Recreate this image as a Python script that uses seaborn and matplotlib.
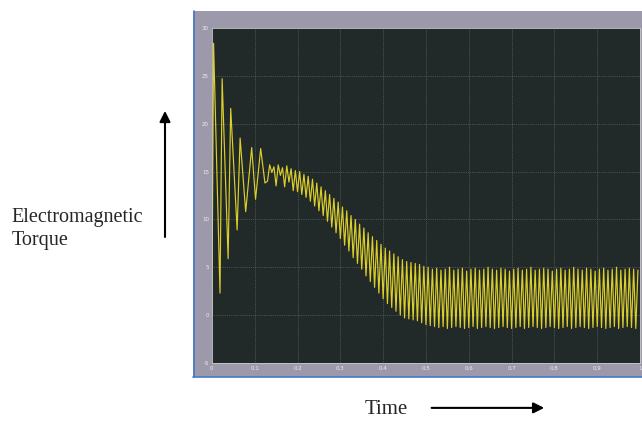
import numpy as np
import pandas as pd
import matplotlib.pyplot as plt
import seaborn as sns
from matplotlib.patches import Rectangle

# start-up transient (50 Hz swing), read extremum by extremum
transient_t = [0.0, 0.004, 0.019, 0.024, 0.038, 0.044, 0.059, 0.066, 0.079,
               0.093, 0.102, 0.114, 0.124]
transient_v = [0.0, 28.4, 2.3, 24.7, 5.9, 21.6, 8.9, 18.5, 10.8,
               17.5, 12.1, 17.4, 13.8]

# 100 Hz ripple after the transient: one peak and one trough per cycle
ripple_start = 0.13
ripple_period = 0.01
peak_v = [15.7, 15.5, 15.7, 15.4, 15.6, 15.3, 15.1, 15.0, 14.7, 14.5,
          14.2, 13.8, 13.4, 13.0, 12.6, 12.2, 11.8, 11.3, 10.9, 10.4,
          10.0, 9.5, 9.1, 8.6, 8.2, 7.8, 7.4, 7.0, 6.7, 6.4,
          6.1, 5.8, 5.6, 5.5, 5.4, 5.3, 5.1, 5.0, 4.8, 4.9,
          4.7, 4.8, 5.0, 4.7, 4.8, 4.9, 4.6, 4.8, 4.9, 4.7,
          4.8, 5.0, 4.8, 4.7, 4.9, 4.8, 4.6, 4.8, 4.9, 4.7,
          4.8, 5.0, 4.7, 4.8, 4.9, 4.8, 4.6, 4.8, 4.9, 4.7,
          4.8, 5.0, 4.8, 4.7, 4.9, 4.8, 4.6, 4.8, 4.9, 4.7,
          4.8, 5.0, 4.7, 4.8, 4.9, 4.8, 4.7]
trough_v = [14.0, 14.9, 13.5, 14.6, 13.4, 13.9, 13.0, 12.9, 12.6, 12.3,
            11.9, 11.4, 10.9, 10.4, 9.8, 9.2, 8.6, 8.0, 7.3, 6.7,
            6.0, 5.4, 4.8, 4.1, 3.5, 2.9, 2.3, 1.7, 1.2, 0.8,
            0.4, 0.0, -0.3, -0.4, -0.5, -0.6, -0.8, -1.0, -1.1, -1.2,
            -1.3, -1.2, -1.4, -1.3, -1.2, -1.3, -1.4, -1.3, -1.2, -1.4,
            -1.3, -1.2, -1.3, -1.4, -1.3, -1.2, -1.3, -1.4, -1.3, -1.2,
            -1.4, -1.3, -1.2, -1.3, -1.4, -1.3, -1.2, -1.3, -1.4, -1.3,
            -1.2, -1.4, -1.3, -1.2, -1.3, -1.4, -1.3, -1.2, -1.3, -1.4,
            -1.3, -1.2, -1.4, -1.3, -1.2, -1.3, -1.4]

x_ticks = [0, 0.1, 0.2, 0.3, 0.4, 0.5, 0.6, 0.7, 0.8, 0.9, 1.0]
x_tick_labels = ["0", "0.1", "0.2", "0.3", "0.4", "0.5", "0.6", "0.7", "0.8", "0.9", "1"]
y_ticks = [-5, 0, 5, 10, 15, 20, 25, 30]

# interleave troughs and peaks into one trace
t_ripple, v_ripple = [], []
for k, (lo, hi) in enumerate(zip(trough_v, peak_v)):
    t0 = ripple_start + k * ripple_period
    t_ripple += [t0, t0 + ripple_period / 2]
    v_ripple += [lo, hi]

df = pd.DataFrame({"time": transient_t + t_ripple,
                   "torque": transient_v + v_ripple})

sns.set_style("white")
plt.rcParams["axes.unicode_minus"] = False
fig = plt.figure(figsize=(6.42, 4.24), dpi=100)

# grey scope window behind the axes
fig.patches.append(Rectangle((0.301, 0.111), 0.70, 0.862, transform=fig.transFigure,
                             facecolor="#9c99aa", edgecolor="none", zorder=-2))
fig.lines.append(plt.Line2D([0.302, 0.302], [0.111, 0.973], transform=fig.transFigure,
                            color="#4a78c8", lw=1.2, zorder=-1))
fig.lines.append(plt.Line2D([0.301, 1.0], [0.112, 0.112], transform=fig.transFigure,
                            color="#4a78c8", lw=1.2, zorder=-1))

ax = fig.add_axes([0.330, 0.144, 0.667, 0.790])
ax.set_facecolor("#212929")
sns.lineplot(data=df, x="time", y="torque", ax=ax, color="#dccf2a",
             linewidth=0.85, estimator=None, sort=False)

ax.set_xlim(0, 1.0)
ax.set_ylim(-5, 30)
ax.set_xticks(x_ticks)
ax.set_xticklabels(x_tick_labels)
ax.set_yticks(y_ticks)
ax.tick_params(axis="both", direction="in", length=3, width=0.6, color="#cfcfcf",
               labelsize=4, labelcolor="#eeeeee", pad=2)
ax.grid(True, linestyle=":", linewidth=0.5, color="#6f7778")
for s in ax.spines.values():
    s.set_color("#c8c8c8")
    s.set_linewidth(0.6)
ax.set_xlabel("")
ax.set_ylabel("")

# annotations outside the scope window
serif = ["Liberation Serif", "DejaVu Serif"]
fig.text(0.018, 0.459, "Electromagnetic\nTorque", family=serif, fontsize=14.5,
         ha="left", va="center", linespacing=1.3)
fig.add_artist(plt.Line2D([0.257, 0.257], [0.44, 0.70], transform=fig.transFigure,
                          color="black", lw=1.5))
ax_arrow = fig.add_axes([0, 0, 1, 1], facecolor="none")
ax_arrow.set_axis_off()
ax_arrow.set_xlim(0, 1)
ax_arrow.set_ylim(0, 1)
ax_arrow.annotate("", xy=(0.257, 0.745), xytext=(0.257, 0.69),
                  arrowprops=dict(arrowstyle="-|>", color="black", lw=1.5,
                                  mutation_scale=16))
fig.text(0.568, 0.035, "Time", family=serif, fontsize=15, ha="left", va="center")
ax_arrow.annotate("", xy=(0.852, 0.038), xytext=(0.668, 0.038),
                  arrowprops=dict(arrowstyle="-|>", color="black", lw=1.5,
                                  mutation_scale=16))

fig.savefig("out.png", dpi=100)
